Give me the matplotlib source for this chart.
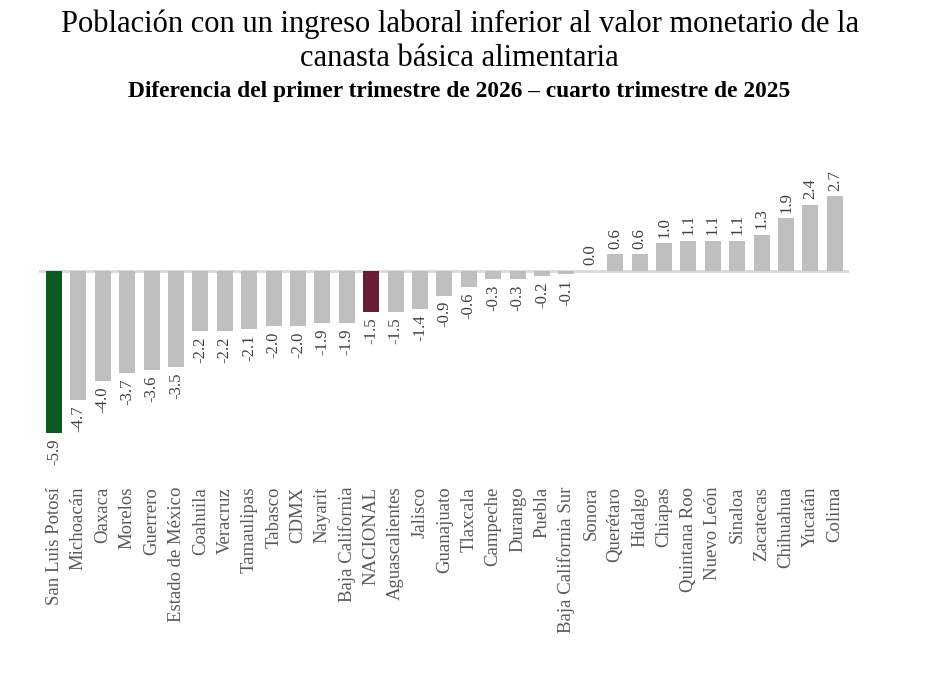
import matplotlib.pyplot as plt

plt.rcParams['font.family'] = ['Liberation Serif', 'DejaVu Serif']

estados = ['San Luis Potosí', 'Michoacán', 'Oaxaca', 'Morelos', 'Guerrero',
           'Estado de México', 'Coahuila', 'Veracruz', 'Tamaulipas', 'Tabasco',
           'CDMX', 'Nayarit', 'Baja California', 'NACIONAL', 'Aguascalientes',
           'Jalisco', 'Guanajuato', 'Tlaxcala', 'Campeche', 'Durango', 'Puebla',
           'Baja California Sur', 'Sonora', 'Querétaro', 'Hidalgo', 'Chiapas',
           'Quintana Roo', 'Nuevo León', 'Sinaloa', 'Zacatecas', 'Chihuahua',
           'Yucatán', 'Colima']
diferencia = [-5.9, -4.7, -4.0, -3.7, -3.6, -3.5, -2.2, -2.2, -2.1, -2.0,
              -2.0, -1.9, -1.9, -1.5, -1.5, -1.4, -0.9, -0.6, -0.3, -0.3, -0.2,
              -0.1, 0.0, 0.6, 0.6, 1.0, 1.1, 1.1, 1.1, 1.3, 1.9, 2.4, 2.7]

GRIS = '#BFBFBF'
colores = []
for e in estados:
    if e == 'San Luis Potosí':
        colores.append('#0B5A24')
    elif e == 'NACIONAL':
        colores.append('#691C32')
    else:
        colores.append(GRIS)

fig = plt.figure(figsize=(9.38, 6.75), dpi=100)
ax = fig.add_axes([0.042, 0.289, 0.8636, 0.4933])

x = range(len(estados))
ax.bar(x, diferencia, width=0.66, color=colores, zorder=2)
ax.axhline(0, color='#D9D9D9', lw=2, zorder=1)

for i, v in enumerate(diferencia):
    if v < 0:
        ax.annotate(f'{v:.1f}', (i, v), xytext=(0, -4), textcoords='offset points',
                    rotation=90, ha='center', va='top', fontsize=12, color='#404040')
    else:
        ax.annotate(f'{v:.1f}', (i, v), xytext=(0, 4), textcoords='offset points',
                    rotation=90, ha='center', va='bottom', fontsize=12, color='#404040')

ax.set_xlim(-0.6, 32.6)
ax.set_ylim(-7.6, 4.5)
ax.set_xticks(list(x))
ax.set_xticklabels(estados, rotation=90, fontsize=13.5, color='#595959')
ax.tick_params(axis='x', length=0, pad=5)
ax.set_yticks([])
for s in ax.spines.values():
    s.set_visible(False)

fig.text(0.49, 0.986, 'Población con un ingreso laboral inferior al valor monetario de la\ncanasta básica alimentaria',
         ha='center', va='top', fontsize=22, linespacing=1.22)
fig.text(0.49, 0.880, 'Diferencia del primer trimestre de 2026 – cuarto trimestre de 2025',
         ha='center', va='top', fontsize=16.8, fontweight='bold')

fig.savefig('out.png', dpi=100)
